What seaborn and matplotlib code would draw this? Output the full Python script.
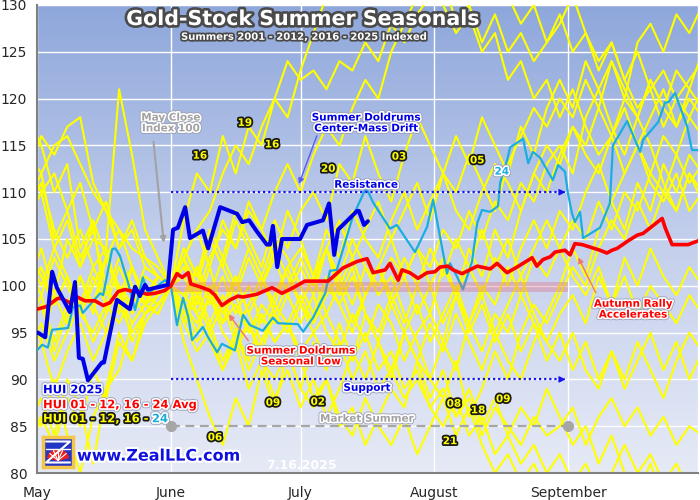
import numpy as np
import pandas as pd
import matplotlib
matplotlib.use("Agg")
import matplotlib.pyplot as plt
import matplotlib.patheffects as pe
from matplotlib.colors import LinearSegmentedColormap
from matplotlib.patches import Wedge
import seaborn as sns

# x axis = calendar days counted from May 1, y = HUI indexed to May close (100)
MONTHS = ["May", "June", "July", "August", "September", ""]
MONTH_DAYS = [0, 31, 61, 92, 123, 153]

# sample days shared by the yellow yearly lines
YEAR_DAYS = list(range(-2, 155, 3))

Y01 = [114, 112, 115, 116, 113, 110, 108, 104, 106, 102, 101, 100,
       97, 99, 95, 98, 94, 96, 93, 97, 95,
       98, 96, 99, 101, 98, 102, 100, 103, 101, 104,
       102, 106, 104, 108, 105, 109, 107, 111, 109, 113,
       115, 112, 118, 121, 124, 120, 126, 128, 125, 129, 127, 130]
Y02 = [109, 112, 105, 108, 103, 106, 100, 97, 102, 98, 99, 100,
       103, 97, 94, 91, 95, 92, 97, 94, 96,
       92, 88, 90, 85, 87, 83, 86, 89, 87, 92,
       90, 94, 91, 96, 93, 97, 95, 99, 96, 94,
       97, 99, 96, 101, 98, 103, 100, 104, 101, 99, 102, 100]
Y03 = [96, 99, 94, 98, 101, 97, 103, 100, 98, 102, 101, 100,
       104, 101, 106, 103, 108, 105, 102, 107, 104,
       108, 110, 107, 113, 111, 116, 112, 109, 114, 118,
       115, 112, 110, 114, 111, 108, 113, 116, 119, 117,
       120, 118, 122, 119, 124, 121, 118, 122, 119, 123, 121, 125]
Y04 = [88, 85, 90, 84, 80, 86, 89, 91, 96, 98, 97, 100,
       96, 99, 95, 98, 101, 97, 100, 103, 99,
       96, 99, 95, 93, 97, 94, 98, 96, 92, 95,
       97, 94, 99, 96, 100, 98, 102, 99, 103, 101,
       104, 107, 105, 109, 106, 110, 108, 112, 110, 114, 111, 113]
Y05 = [107, 110, 104, 107, 102, 105, 104, 121, 114, 106, 103, 100,
       98, 102, 99, 103, 100, 104, 101, 98, 102,
       104, 101, 106, 103, 108, 105, 103, 107, 110, 106,
       109, 112, 108, 106, 110, 113, 111, 108, 112, 115,
       113, 117, 114, 112, 116, 119, 115, 118, 121, 117, 120, 118]
Y06 = [118, 115, 110, 113, 104, 107, 97, 100, 94, 97, 99, 100,
       94, 90, 86, 83, 88, 85, 91, 87, 93,
       89, 94, 91, 96, 92, 97, 94, 90, 95, 98,
       94, 97, 100, 96, 99, 95, 98, 101, 97, 94,
       92, 95, 91, 89, 93, 90, 94, 91, 88, 92, 95, 93]
Y07 = [103, 100, 104, 101, 98, 102, 99, 103, 100, 98, 101, 100,
       101, 98, 102, 97, 99, 95, 98, 96, 99,
       102, 99, 104, 101, 105, 102, 99, 101, 97, 94,
       90, 88, 92, 86, 89, 93, 90, 95, 98, 96,
       99, 102, 100, 104, 107, 105, 109, 106, 110, 108, 112, 110]
Y08 = [100, 104, 99, 105, 102, 107, 103, 99, 102, 98, 101, 100,
       103, 106, 102, 107, 104, 109, 106, 103, 108,
       105, 101, 104, 99, 102, 97, 94, 98, 95, 92,
       88, 91, 86, 89, 85, 88, 84, 87, 85, 89,
       86, 83, 85, 81, 84, 80, 78, 81, 77, 74, 76, 73]
Y09 = [97, 94, 99, 96, 101, 98, 95, 99, 96, 98, 97, 100,
       96, 93, 95, 91, 94, 89, 92, 88, 91,
       87, 90, 86, 89, 93, 90, 94, 91, 95, 92,
       96, 93, 97, 94, 91, 95, 92, 90, 94, 97,
       100, 104, 101, 106, 109, 106, 111, 108, 113, 110, 114, 112]
Y10 = [91, 94, 89, 93, 96, 92, 95, 98, 95, 97, 99, 100,
       103, 100, 105, 102, 107, 104, 101, 105, 103,
       100, 97, 101, 98, 95, 99, 102, 99, 103, 100,
       104, 101, 105, 102, 99, 103, 100, 104, 107, 104,
       108, 106, 110, 113, 109, 112, 115, 112, 116, 114, 118, 116]
Y11 = [113, 110, 112, 108, 111, 106, 109, 104, 107, 103, 102, 100,
       97, 100, 96, 99, 95, 98, 101, 97, 100,
       103, 100, 104, 107, 103, 106, 109, 105, 108, 111,
       107, 112, 116, 113, 118, 115, 112, 117, 114, 119,
       122, 119, 124, 121, 117, 114, 118, 115, 111, 108, 112, 109]
Y12 = [112, 116, 114, 117, 118, 111, 108, 106, 104, 103, 101, 100,
       98, 95, 99, 96, 101, 97, 94, 98, 96,
       99, 96, 100, 98, 101, 97, 95, 99, 96, 100,
       97, 102, 99, 104, 101, 106, 103, 108, 112, 110,
       114, 117, 115, 119, 116, 120, 118, 122, 119, 117, 121, 119]
Y16 = [95, 98, 93, 97, 101, 98, 103, 106, 102, 99, 98, 100,
       107, 112, 110, 116, 112, 117, 115, 120, 118,
       123, 127, 131, 134, 137, 135, 138, 141, 138, 140,
       137, 139, 135, 137, 133, 135, 131, 128, 130, 126,
       129, 125, 127, 123, 126, 122, 119, 121, 117, 120, 118, 121]
Y17 = [99, 102, 98, 101, 97, 100, 103, 99, 102, 98, 100, 100,
       99, 102, 98, 101, 97, 100, 96, 99, 102,
       98, 101, 104, 100, 103, 99, 102, 105, 101, 104,
       100, 103, 99, 102, 106, 102, 105, 101, 104, 107,
       104, 101, 99, 102, 98, 101, 97, 100, 98, 96, 99, 97]
Y18 = [102, 99, 103, 100, 97, 101, 98, 102, 99, 101, 100, 100,
       99, 97, 100, 96, 98, 95, 97, 94, 96,
       93, 95, 92, 94, 90, 93, 89, 91, 88, 90,
       87, 89, 86, 88, 84, 87, 85, 83, 86, 84,
       85, 87, 83, 86, 88, 85, 87, 84, 86, 83, 85, 84]
Y19 = [104, 101, 98, 101, 97, 95, 98, 96, 99, 97, 98, 100,
       103, 106, 108, 112, 115, 113, 117, 120, 124,
       122, 123, 121, 124, 123, 126, 124, 128, 126, 129,
       131, 133, 128, 130, 126, 129, 125, 127, 124, 126,
       128, 131, 127, 124, 126, 122, 125, 121, 123, 120, 122, 124]
Y20 = [85, 88, 84, 90, 87, 81, 89, 95, 92, 97, 98, 100,
       102, 99, 103, 106, 104, 108, 106, 110, 113,
       110, 114, 117, 115, 119, 122, 120, 125, 128, 131,
       134, 130, 127, 129, 125, 127, 122, 124, 120, 122,
       118, 121, 117, 114, 116, 112, 115, 111, 109, 112, 108, 110]
Y21 = [93, 96, 92, 95, 98, 94, 97, 100, 97, 99, 101, 100,
       97, 94, 96, 92, 95, 91, 94, 97, 95,
       98, 95, 97, 94, 92, 95, 91, 93, 89, 91,
       87, 85, 88, 84, 86, 82, 84, 81, 83, 80,
       82, 79, 81, 78, 80, 83, 80, 82, 79, 81, 78, 80]
Y22 = [108, 111, 106, 103, 106, 102, 104, 99, 102, 98, 101, 100,
       98, 96, 99, 95, 93, 96, 92, 90, 93,
       89, 87, 90, 86, 84, 88, 85, 83, 86, 82,
       85, 88, 84, 87, 83, 80, 82, 79, 81, 78,
       80, 77, 79, 76, 78, 75, 77, 74, 76, 73, 75, 72]
Y23 = [82, 86, 83, 88, 85, 91, 88, 94, 92, 96, 98, 100,
       104, 101, 105, 102, 99, 103, 100, 104, 101,
       98, 101, 97, 100, 96, 99, 102, 98, 101, 97,
       100, 96, 99, 95, 98, 94, 97, 93, 96, 92,
       95, 91, 94, 90, 93, 89, 92, 95, 91, 94, 90, 93]

YELLOW_YEARS = ["01", "02", "03", "04", "05", "06", "07", "08", "09", "10",
                "11", "12", "16", "17", "18", "19", "20", "21", "22", "23"]
YELLOW_SERIES = [Y01, Y02, Y03, Y04, Y05, Y06, Y07, Y08, Y09, Y10,
                 Y11, Y12, Y16, Y17, Y18, Y19, Y20, Y21, Y22, Y23]

# 2024 (cyan)
C24_DAYS = [0, 1.2, 2.5, 3.5, 7.2, 8.3, 10.0, 10.6, 14.6, 15.3,
            17.4, 18.1, 19.2, 21.1, 22.7, 24.5, 25.7, 29.6, 31.0, 32.4,
            33.8, 35.0, 35.9, 38.4, 39.6, 41.7, 42.8, 45.8, 47.7, 49.3,
            52.3, 54.6, 55.8, 60.4, 61.6, 63.9, 66.7, 67.8, 69.4, 73.1,
            75.9, 76.6, 77.8, 81.7, 83.3, 85.6, 87.5, 90.3, 91.7, 93.3,
            94.9, 95.6, 97.2, 98.6, 100.7, 101.9, 103.0, 104.9, 106.7, 107.2,
            108.8, 109.5, 112.5, 113.7, 114.8, 116.4, 119.4, 120.6, 122.2, 122.9,
            123.8, 124.5, 125.7, 126.4, 130.3, 132.6, 133.3, 136.6, 139.6, 140.3,
            143.8, 145.4, 146.1, 147.7, 150.5, 151.6, 153.0]
C24_VALS = [93.1, 93.7, 93.4, 95.3, 95.5, 97.7, 97.9, 97.1, 99.2, 99.0,
            103.9, 104.0, 103.2, 100.3, 97.4, 100.9, 99.2, 100.6, 100.0, 95.8,
            98.7, 96.7, 94.2, 95.6, 94.5, 92.9, 93.8, 93.1, 96.9, 95.8,
            95.2, 96.6, 96.0, 95.9, 95.1, 96.6, 99.2, 101.6, 101.7, 107.4,
            110.2, 110.1, 108.9, 106.1, 106.5, 104.9, 103.6, 106.3, 109.2, 105.2,
            101.3, 102.4, 101.0, 99.6, 102.6, 106.7, 108.1, 107.9, 108.5, 111.0,
            113.4, 114.8, 115.7, 113.1, 114.3, 113.7, 111.3, 112.9, 112.2, 109.9,
            107.8, 106.8, 107.9, 105.1, 106.2, 108.8, 115.0, 117.6, 114.3, 115.6,
            117.5, 119.6, 119.6, 120.6, 117.0, 114.5, 114.5]

# average of all summers (red)
AVG_DAYS = [0, 2.3, 4.6, 5.3, 7.6, 9.3, 11.1, 13.4, 15.3, 16.9,
            18.8, 20.4, 22.2, 23.4, 25.5, 27.3, 29.6, 31.0, 32.4, 33.6,
            35.0, 35.6, 37.7, 40.0, 41.2, 42.8, 44.7, 46.5, 47.7, 50.9,
            54.4, 56.7, 59.3, 62.0, 67.4, 70.8, 74.1, 76.4, 77.8, 80.6,
            81.7, 83.6, 84.5, 86.3, 88.2, 90.3, 92.1, 93.3, 95.1, 96.3,
            98.4, 101.9, 104.9, 106.5, 108.8, 111.1, 114.6, 115.7, 117.1, 118.8,
            119.9, 122.2, 123.4, 124.5, 126.2, 130.3, 131.9, 133.1, 134.3, 136.8,
            138.9, 140.3, 144.7, 145.4, 147.0, 150.7, 153.0]
AVG_VALS = [97.5, 97.8, 98.6, 98.7, 98.2, 98.8, 98.4, 98.4, 97.9, 98.2,
            99.4, 99.6, 99.4, 99.4, 99.1, 99.2, 99.5, 100.0, 101.3, 100.9,
            101.4, 100.2, 99.9, 99.5, 99.0, 97.9, 98.5, 98.9, 98.8, 99.1,
            99.8, 99.2, 99.8, 100.5, 100.5, 101.9, 102.6, 102.9, 101.4, 101.7,
            102.4, 100.6, 101.7, 101.4, 100.8, 101.4, 101.5, 102.0, 102.1, 101.7,
            101.3, 102.1, 101.8, 102.4, 101.4, 102.0, 103.0, 102.1, 102.8, 103.1,
            103.6, 103.8, 103.3, 104.5, 104.4, 103.8, 103.5, 103.8, 104.0, 104.8,
            105.4, 105.6, 107.2, 106.2, 104.4, 104.4, 104.8]

# 2025 so far (blue)
HUI25_DAYS = [0.2, 1.9, 3.5, 4.6, 7.6, 8.8, 9.7, 10.6, 11.8, 15.0,
              15.5, 18.5, 21.5, 22.7, 23.8, 25.0, 25.7, 30.3, 31.5, 32.6,
              34.3, 35.4, 38.4, 39.6, 42.4, 46.3, 47.5, 49.1, 50.9, 53.2,
              53.9, 54.6, 55.6, 56.7, 60.9, 62.5, 66.2, 67.6, 68.8, 69.7,
              74.1, 74.5, 75.7, 76.6]
HUI25_VALS = [95.0, 94.5, 101.5, 99.8, 97.2, 100.4, 92.3, 92.2, 89.9, 91.8,
              91.8, 98.5, 97.5, 99.9, 98.9, 100.1, 99.6, 100.1, 106.0, 106.2,
              108.4, 105.1, 105.9, 104.0, 108.4, 107.7, 106.8, 107.0, 105.8, 104.4,
              104.4, 106.4, 102.0, 105.0, 105.0, 106.5, 107.0, 108.8, 103.3, 106.0,
              108.0, 108.0, 106.5, 106.9]

# summer window levels
SUMMER_SPAN = [31, 123]
RESISTANCE = 110
SUPPORT = 90
MARKET_SUMMER = 85
CENTER_BAND = [99.3, 100.4]

HALO = [pe.Stroke(linewidth=3.6, foreground="#9aa0b4"),
        pe.Stroke(linewidth=2.4, foreground="white"), pe.Normal()]
DARK = [pe.Stroke(linewidth=2.6, foreground="#1a1a1a"), pe.Normal()]

sns.set_style("white")
plt.rcParams["font.family"] = ["DejaVu Sans"]

fig = plt.figure(figsize=(7, 5), dpi=100)
ax = fig.add_axes([37 / 700, 27 / 500, 661 / 700, 468 / 500])

# background gradient
bg = LinearSegmentedColormap.from_list("bg", ["#e6eaf6", "#c3cfec", "#8ea7db"])
ax.imshow(np.linspace(0, 1, 256).reshape(-1, 1), cmap=bg, origin="lower",
          extent=[0, 153, 80, 130], aspect="auto", zorder=0)

yel = pd.concat([pd.DataFrame({"day": YEAR_DAYS, "hui": vals, "year": yr})
                 for yr, vals in zip(YELLOW_YEARS, YELLOW_SERIES)])
sns.lineplot(data=yel, x="day", y="hui", units="year", estimator=None,
             color="#ffff00", linewidth=1.5, ax=ax, legend=False, zorder=2)
sns.lineplot(x=C24_DAYS, y=C24_VALS, color="#1aaee0", linewidth=1.6,
             ax=ax, zorder=3, estimator=None)
ax.fill_between(SUMMER_SPAN, CENTER_BAND[0], CENTER_BAND[1],
                color="#e0687c", alpha=0.35, linewidth=0, zorder=3.5)
sns.lineplot(x=AVG_DAYS, y=AVG_VALS, color="#ff0000", linewidth=2.6,
             ax=ax, zorder=4, estimator=None)
sns.lineplot(x=HUI25_DAYS, y=HUI25_VALS, color="#0000e6", linewidth=2.9,
             ax=ax, zorder=5, estimator=None)

# resistance / support and market summer
for lvl in [RESISTANCE, SUPPORT]:
    ax.plot([SUMMER_SPAN[0], SUMMER_SPAN[1] - 0.8], [lvl, lvl], color="#1414f0",
            linestyle=(0, (1, 1.3)), linewidth=1.6, zorder=6)
    ax.annotate("", xy=(SUMMER_SPAN[1], lvl), xytext=(SUMMER_SPAN[1] - 2, lvl),
                arrowprops=dict(arrowstyle="-|>", color="#1414f0", lw=1,
                                mutation_scale=9), zorder=6)
ax.plot(SUMMER_SPAN, [MARKET_SUMMER, MARKET_SUMMER], color="#a6a6a6",
        linestyle=(0, (4, 2.5)), linewidth=1.6, marker="o", markersize=7, zorder=6)

ax.set_xlim(0, 153)
ax.set_ylim(80, 130)
ax.set_xlabel("")
ax.set_ylabel("")
ax.set_xticks(MONTH_DAYS)
ax.set_xticklabels(MONTHS)
ax.set_yticks(range(80, 131, 5))
ax.set_yticks(range(80, 131), minor=True)
ax.set_axisbelow(True)
ax.grid(True, which="major", color="white", linewidth=1)
ax.tick_params(axis="x", direction="inout", length=8, color="#808080",
               labelsize=10, pad=5)
ax.tick_params(axis="y", which="major", direction="in", length=6,
               color="#808080", labelsize=10, pad=7)
ax.tick_params(axis="y", which="minor", direction="in", length=3, color="#808080")
for side in ["top", "right"]:
    ax.spines[side].set_visible(False)
for side in ["left", "bottom"]:
    ax.spines[side].set_color("#808080")
    ax.spines[side].set_linewidth(1.5)

# title
ax.text(61.5, 128.5, "Gold-Stock Summer Seasonals", color="white", fontsize=14.8,
        fontweight="bold", ha="center", va="center", zorder=12,
        path_effects=[pe.Stroke(linewidth=3.8, foreground="#4a4a4a"), pe.Normal()])
ax.text(61.8, 126.6, "Summers 2001 - 2012, 2016 - 2025 Indexed", color="white",
        fontsize=7.2, fontweight="bold", ha="center", va="center", zorder=12,
        path_effects=[pe.Stroke(linewidth=2.5, foreground="#4a4a4a"), pe.Normal()])

# callouts
ax.text(31, 117.4, "May Close\nIndex 100", color="#a2a2a2", fontsize=7.5,
        fontweight="bold", ha="center", va="center", linespacing=1.1,
        zorder=12, path_effects=HALO)
ax.annotate("", xy=(29.4, 104.3), xytext=(26.9, 115.7), zorder=12,
            arrowprops=dict(arrowstyle="-|>", color="#a2a2a2", lw=1.5, mutation_scale=8))
ax.text(76.2, 117.4, "Summer Doldrums\nCenter-Mass Drift", color="#0000e6",
        fontsize=7.5, fontweight="bold", ha="center", va="center",
        linespacing=1.1, zorder=12, path_effects=HALO)
ax.annotate("", xy=(60.4, 110.6), xytext=(65.0, 116.3), zorder=12,
            arrowprops=dict(arrowstyle="-|>", color="#5a5af0", lw=1, mutation_scale=8))
ax.text(76.2, 110.8, "Resistance", color="#0000e6", fontsize=7.5,
        fontweight="bold", ha="center", va="center", zorder=12, path_effects=HALO)
ax.text(76.4, 89.1, "Support", color="#0000e6", fontsize=7.5,
        fontweight="bold", ha="center", va="center", zorder=12, path_effects=HALO)
ax.text(76.4, 85.8, "Market Summer", color="#a2a2a2", fontsize=7.5,
        fontweight="bold", ha="center", va="center", zorder=12, path_effects=HALO)
ax.text(61.1, 92.5, "Summer Doldrums\nSeasonal Low", color="#ff0000",
        fontsize=7.5, fontweight="bold", ha="center", va="center",
        linespacing=1.1, zorder=12, path_effects=HALO)
ax.annotate("", xy=(44.0, 97.2), xytext=(49.3, 93.9), zorder=12,
            arrowprops=dict(arrowstyle="-|>", color="#f07868", lw=1, mutation_scale=8))
ax.text(138, 97.5, "Autumn Rally\nAccelerates", color="#ff0000", fontsize=7.5,
        fontweight="bold", ha="center", va="center", linespacing=1.1,
        zorder=12, path_effects=HALO)
ax.annotate("", xy=(125.0, 103.3), xytext=(129.6, 99.0), zorder=12,
            arrowprops=dict(arrowstyle="-|>", color="#f07868", lw=1, mutation_scale=8))

# year tags
YEAR_TAGS = [("16", 37.7, 113.9), ("19", 48.1, 117.4), ("16", 54.4, 115.1),
             ("20", 67.4, 112.5), ("03", 83.8, 113.8), ("05", 101.9, 113.4),
             ("09", 54.6, 87.5), ("02", 65.0, 87.6), ("06", 41.2, 83.8),
             ("08", 96.5, 87.4), ("18", 102.1, 86.7), ("09", 107.9, 87.9),
             ("21", 95.6, 83.4)]
for tag, tx, ty in YEAR_TAGS:
    ax.text(tx, ty, tag, color="#ffff00", fontsize=7.5, fontweight="bold",
            ha="center", va="center", zorder=12, path_effects=DARK)
ax.text(107.6, 112.2, "24", color="#1aaee0", fontsize=7.5, fontweight="bold",
        ha="center", va="center", zorder=12, path_effects=HALO)

# legend text
ax.text(1.4, 88.9, "HUI 2025", color="#0000e6", fontsize=8.3, fontweight="bold",
        ha="left", va="center", zorder=12, path_effects=HALO)
ax.text(1.4, 87.3, "HUI 01 - 12, 16 - 24 Avg", color="#ff0000", fontsize=8.3,
        fontweight="bold", ha="left", va="center", zorder=12, path_effects=HALO)
leg3 = ax.text(1.4, 85.8, "HUI 01 - 12, 16 -", color="#ffff00", fontsize=8.3,
               fontweight="bold", ha="left", va="center", zorder=12, path_effects=DARK)
ax.annotate("24", xy=(1, 0.5), xycoords=leg3, xytext=(3, 0),
            textcoords="offset points", color="#1aaee0", fontsize=8.3,
            fontweight="bold", ha="left", va="center", zorder=12, path_effects=HALO)

ax.text(28.2, 81.8, "www.ZealLLC.com", color="#1010e0", fontsize=11.5,
        fontweight="bold", ha="center", va="center", zorder=12,
        path_effects=[pe.Stroke(linewidth=3, foreground="white"), pe.Normal()])
ax.text(61.3, 80.8, "7.16.2025", color="white", fontsize=9, fontweight="bold",
        ha="center", va="center", zorder=12)

# small logo box
lg = fig.add_axes([43 / 700, 33 / 500, 30 / 700, 30 / 500])
lg.set_facecolor("#2434c4")
lg.set_xlim(0, 1)
lg.set_ylim(0, 1)
lg.set_xticks([])
lg.set_yticks([])
for s in lg.spines.values():
    s.set_color("#f3c64a")
    s.set_linewidth(2.5)
lg.plot([0.1, 0.9, 0.1, 0.9], [0.85, 0.85, 0.15, 0.15], color="white", lw=1.5)
lg.plot([0.1, 0.9], [0.6, 0.6], color="white", lw=1)
lg.add_patch(Wedge((0.5, 0.22), 0.36, 15, 165, color="#e82020"))
for ang in [40, 65, 90, 115, 140]:
    lg.plot([0.5, 0.5 + 0.36 * np.cos(np.radians(ang))],
            [0.22, 0.22 + 0.36 * np.sin(np.radians(ang))], color="white", lw=0.8)

fig.savefig("out.png", dpi=100)
